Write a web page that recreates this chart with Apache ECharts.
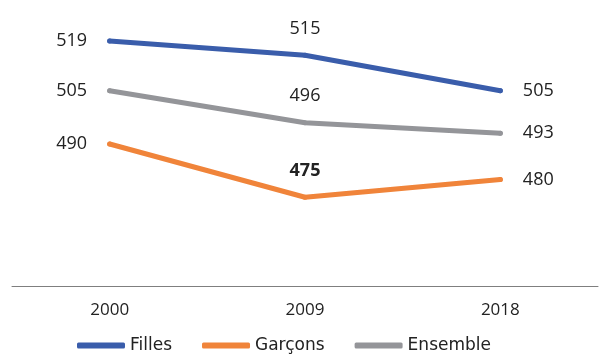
<!DOCTYPE html>
<html><head><meta charset="utf-8">
<script src="https://cdn.jsdelivr.net/npm/echarts@6/dist/echarts.min.js"></script>
<style>html,body{margin:0;padding:0;background:#fff}#c{width:600px;height:354px}</style>
</head><body><div id="c"></div>
<script>
const categories = ['2000', '2009', '2018'];
const filles = [519, 515, 505];
const garcons = [490, 475, 480];
const ensemble = [505, 496, 493];
const seriesNames = ['Filles', 'Garçons', 'Ensemble'];
const colors = ['#3a5dab', '#f0843a', '#949599'];

const font = "'Open Sans', 'Noto Sans', sans-serif";
function mk(name, vals, color, boldIdx) {
  return {
    name, type: 'line', data: vals.map((v, i) => ({
      value: v,
      label: {
        position: i === 0 ? 'left' : (i === vals.length - 1 ? 'right' : 'top'),
        distance: i === 0 || i === vals.length - 1 ? 20 : 15,
        fontWeight: i === boldIdx ? 'bold' : 'normal'
      }
    })),
    symbol: 'circle', symbolSize: 5,
    itemStyle: { color },
    lineStyle: { color, width: 5, cap: 'round', join: 'round' },
    label: { show: true, color: '#222', fontSize: 18, fontFamily: font },
    emphasis: { disabled: true },
    animation: false
  };
}
const chart = echarts.init(document.getElementById('c'));
chart.setOption({
  animation: false,
  grid: { left: 12, right: 2, top: 2, bottom: 68 },
  xAxis: {
    type: 'category', data: categories, boundaryGap: true,
    axisLine: { lineStyle: { color: '#7f7f7f', width: 1 } },
    axisTick: { show: false },
    axisLabel: { color: '#222', fontSize: 17, fontFamily: font, margin: 16 }
  },
  yAxis: { type: 'value', min: 450, max: 530, show: false, splitLine: { show: false } },
  legend: {
    top: 332, left: 72, itemWidth: 48, itemHeight: 6, itemGap: 30,
    icon: 'roundRect',
    textStyle: { color: '#222', fontSize: 17, fontFamily: "'DejaVu Sans', 'Noto Sans', sans-serif" },
    data: seriesNames
  },
  series: [
    mk(seriesNames[0], filles, colors[0], -1),
    mk(seriesNames[1], garcons, colors[1], 1),
    mk(seriesNames[2], ensemble, colors[2], -1)
  ]
});
</script></body></html>
